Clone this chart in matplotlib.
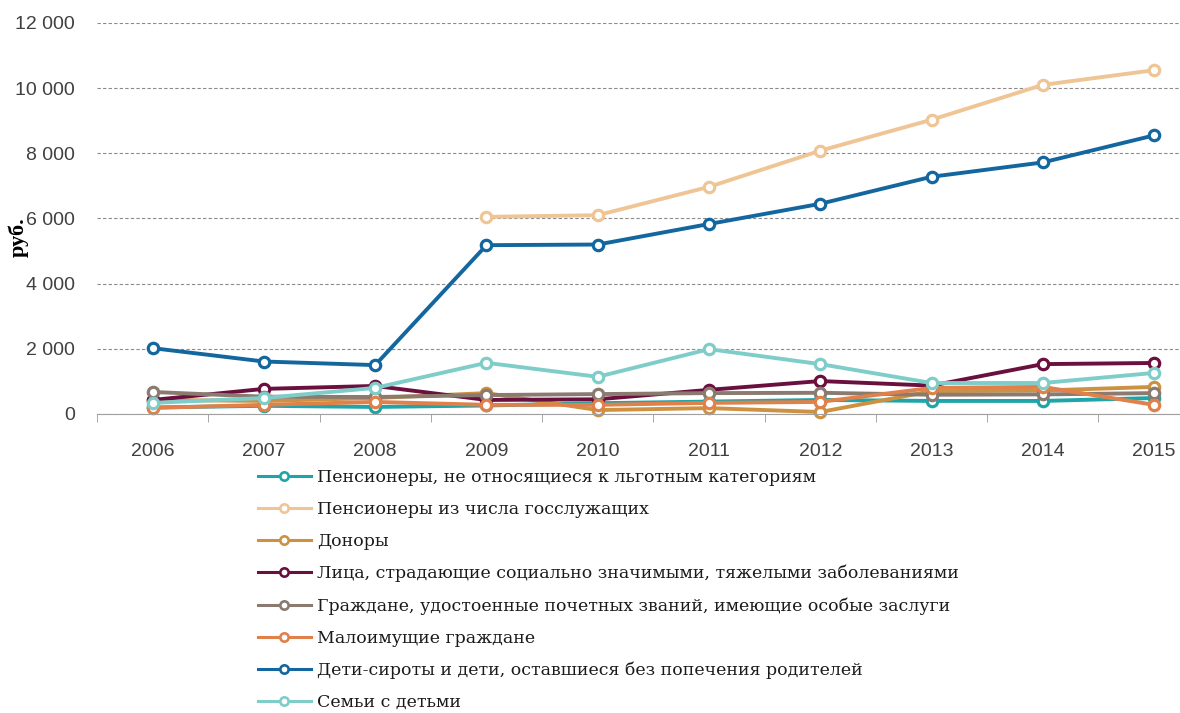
import matplotlib
matplotlib.use("Agg")
import matplotlib.pyplot as plt
import numpy as np

plt.rcParams['font.family'] = ['Liberation Sans', 'DejaVu Sans']

years = ['2006', '2007', '2008', '2009', '2010', '2011', '2012', '2013', '2014', '2015']

# значения, руб.
pens_other = [200, 250, 215, 260, 330, 380, 430, 400, 400, 490]
pens_gos = [np.nan, np.nan, np.nan, 6050, 6100, 6970, 8080, 9030, 10100, 10550]
donors = [430, 400, 490, 640, 120, 180, 60, 700, 720, 830]
sick = [430, 770, 860, 430, 450, 740, 1010, 870, 1530, 1565]
honored = [675, 530, 520, 580, 610, 640, 650, 590, 600, 640]
poor = [185, 280, 370, 280, 280, 340, 370, 800, 830, 280]
orphans = [2020, 1610, 1500, 5180, 5200, 5830, 6450, 7280, 7720, 8550]
families = [340, 490, 800, 1570, 1140, 1990, 1530, 950, 950, 1260]

series = [
    ("Пенсионеры, не относящиеся к льготным категориям", pens_other, '#1fa5a8'),
    ("Пенсионеры из числа госслужащих", pens_gos, '#f0c596'),
    ("Доноры", donors, '#cc9242'),
    ("Лица, страдающие социально значимыми, тяжелыми заболеваниями", sick, '#6a0f3e'),
    ("Граждане, удостоенные почетных званий, имеющие особые заслуги", honored, '#8a7a70'),
    ("Малоимущие граждане", poor, '#e0804a'),
    ("Дети-сироты и дети, оставшиеся без попечения родителей", orphans, '#13679e'),
    ("Семьи с детьми", families, '#7fcdc9'),
]

fig = plt.figure(figsize=(11.8, 7.13), dpi=100)
ax = fig.add_axes([0.0822, 0.4194, 0.943, 0.5484])

x = np.arange(len(years))
for label, vals, col in series:
    ax.plot(x, vals, color=col, lw=2.8, marker='o', ms=7.5, mfc='white',
            mec=col, mew=2.3, label=label, clip_on=False)

ax.set_xlim(-0.5, 9.5)
ax.set_ylim(0, 12000)
ax.set_yticks(range(0, 12001, 2000))
ax.set_yticklabels(['0', '2 000', '4 000', '6 000', '8 000', '10 000', '12 000'])
ax.set_xticks(x)
ax.set_xticklabels(years)
ax.set_xticks(np.arange(-0.5, 10, 1), minor=True)
ax.tick_params(axis='x', which='major', length=0, pad=21, labelsize=14, colors='#404040')
ax.tick_params(axis='x', which='minor', length=6, color='#999999', direction='out')
ax.tick_params(axis='y', length=0, pad=16, labelsize=14, colors='#404040')
ax.yaxis.grid(True, ls=(0, (3, 2)), color='#8a8a8a', lw=0.8)
ax.set_axisbelow(True)
for s in ['top', 'right', 'left']:
    ax.spines[s].set_visible(False)
ax.spines['bottom'].set_color('#a0a0a0')

fig.text(0.016, 0.667, 'руб.', rotation=90, fontsize=16, fontweight='bold',
         family=['Liberation Serif', 'DejaVu Serif'], ha='center', va='center')

leg = fig.legend(loc='upper left', bbox_to_anchor=(0.219, 0.342), frameon=False,
                 prop={'family': ['DejaVu Serif'], 'size': 12.5}, labelcolor='#1a1a1a',
                 handlelength=3.0, handletextpad=0.4, labelspacing=0.86,
                 markerscale=0.8, borderaxespad=0, borderpad=0)
for ln in leg.get_lines():
    ln.set_linewidth(2.2)
    ln.set_markeredgewidth(1.9)

fig.savefig('out.png', dpi=100)
